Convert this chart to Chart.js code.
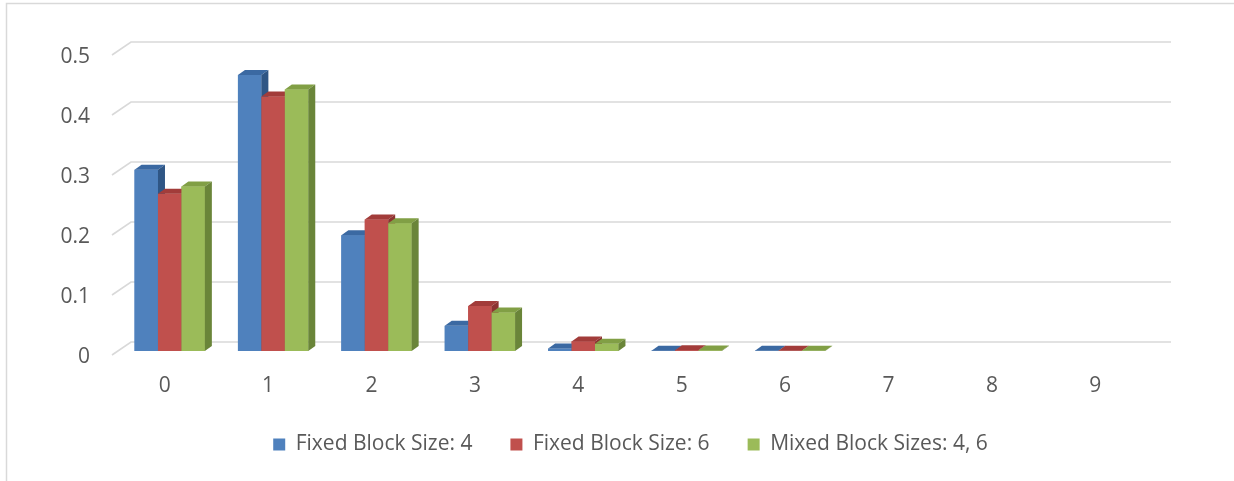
<!DOCTYPE html>
<html>
<head>
<meta charset="utf-8">
<title>Block size distribution</title>
<script src="https://cdn.jsdelivr.net/npm/chart.js@4.4.1/dist/chart.umd.min.js"></script>
<style>
  html, body { margin: 0; padding: 0; background: #ffffff; }
  #wrap { width: 1234px; height: 481px; }
</style>
</head>
<body>
<div id="wrap"><canvas id="chart" width="1234" height="481"></canvas></div>
<script>
// Categories and series values
const categories = ['0', '1', '2', '3', '4', '5', '6', '7', '8', '9'];
const fixed4 = [0.302, 0.460, 0.193, 0.042, 0.004, 0.0006, 0.0004, 0, 0, 0];
const fixed6 = [0.262, 0.424, 0.219, 0.075, 0.016, 0.0012, 0.0004, 0, 0, 0];
const mixed46 = [0.274, 0.436, 0.213, 0.064, 0.012, 0.0009, 0.0004, 0, 0, 0];
const seriesNames = ['Fixed Block Size: 4', 'Fixed Block Size: 6', 'Mixed Block Sizes: 4, 6'];
const yTicks = [0, 0.1, 0.2, 0.3, 0.4, 0.5];

// Face colours: front, top, side
const faceColors = [
  { front: '#4F81BD', top: '#3B69A2', side: '#2F5685' },
  { front: '#C0504D', top: '#A23C3A', side: '#8C3331' },
  { front: '#9BBB59', top: '#819F45', side: '#6A8539' }
];

const TEXT = '#595959';
const GRID = '#D9D9D9';
const FONT = "'Open Sans', 'DejaVu Sans', sans-serif";
const FONT_SIZE = 21;

// Depth offsets for the extruded columns
const BAR_DX = 7, BAR_DY = 5;

const frame = {
  id: 'frame',
  beforeDraw(chart) {
    const ctx = chart.ctx;
    ctx.save();
    ctx.fillStyle = '#ffffff';
    ctx.fillRect(0, 0, chart.width, chart.height);
    ctx.strokeStyle = GRID;
    ctx.lineWidth = 1.5;
    ctx.beginPath();
    ctx.moveTo(6.5, chart.height);
    ctx.lineTo(6.5, 3.5);
    ctx.lineTo(chart.width, 3.5);
    ctx.stroke();
    ctx.restore();
  }
};

// Gridlines on a receding back wall: diagonal from the front edge, then flat along the back
const wallGrid = {
  id: 'wallGrid',
  beforeDatasetsDraw(chart) {
    const { ctx, chartArea } = chart;
    const y = chart.scales.y;
    const fx = chartArea.left - 6, bx = chartArea.left + 13, rx = chartArea.right + 19;
    ctx.save();
    ctx.strokeStyle = GRID;
    ctx.lineWidth = 1.6;
    yTicks.forEach(v => {
      const py = y.getPixelForValue(v);
      ctx.beginPath();
      ctx.moveTo(fx, py + 4);
      ctx.lineTo(bx, py - 9);
      ctx.lineTo(rx, py - 9);
      ctx.stroke();
    });
    ctx.restore();
  }
};

// Columns with a top and right side face, drawn series by series
const columns3d = {
  id: 'columns3d',
  afterDatasetsDraw(chart) {
    const ctx = chart.ctx;
    ctx.save();
    chart.data.datasets.forEach((ds, di) => {
      const meta = chart.getDatasetMeta(di);
      const c = faceColors[di];
      meta.data.forEach((el, i) => {
        if (!ds.data[i]) return;
        const p = el.getProps(['x', 'y', 'base', 'width'], true);
        const l = p.x - p.width / 2, r = p.x + p.width / 2;
        el.draw(ctx, chart.chartArea);
        ctx.fillStyle = c.top;
        ctx.beginPath();
        ctx.moveTo(l, p.y);
        ctx.lineTo(r, p.y);
        ctx.lineTo(r + BAR_DX, p.y - BAR_DY);
        ctx.lineTo(l + BAR_DX, p.y - BAR_DY);
        ctx.closePath();
        ctx.fill();
        ctx.fillStyle = c.side;
        ctx.beginPath();
        ctx.moveTo(r, p.y);
        ctx.lineTo(r + BAR_DX, p.y - BAR_DY);
        ctx.lineTo(r + BAR_DX, p.base - BAR_DY);
        ctx.lineTo(r, p.base);
        ctx.closePath();
        ctx.fill();
      });
    });
    ctx.restore();
  }
};

const seriesValues = [fixed4, fixed6, mixed46];

new Chart(document.getElementById('chart'), {
  type: 'bar',
  data: {
    labels: categories,
    datasets: seriesValues.map((vals, i) => ({
      label: seriesNames[i],
      data: vals,
      backgroundColor: faceColors[i].front,
      borderWidth: 0,
      barPercentage: 1.0,
      categoryPercentage: 0.68
    }))
  },
  options: {
    responsive: false,
    animation: false,
    devicePixelRatio: 1,
    layout: { padding: { top: 51, right: 0, left: 27, bottom: 16 } },
    scales: {
      x: {
        grid: { display: false, drawTicks: false },
        border: { display: false },
        ticks: { color: TEXT, font: { family: FONT, size: FONT_SIZE }, padding: 22, labelOffset: -5, maxRotation: 0 },
        afterFit(scale) { scale.height = 45; }
      },
      y: {
        min: 0,
        max: 0.5,
        grid: { display: false, drawTicks: false },
        border: { display: false },
        ticks: {
          stepSize: 0.1,
          color: TEXT,
          font: { family: FONT, size: FONT_SIZE },
          padding: 28,
          labelOffset: 6,
          callback: v => (Math.round(v * 10) / 10).toString()
        },
        afterFit(scale) { scale.width = 91; }
      },
      // empty right-hand margin of the plot
      yRight: {
        position: 'right',
        grid: { display: false, drawTicks: false },
        border: { display: false },
        ticks: { display: false },
        afterFit(scale) { scale.width = 82; }
      }
    },
    plugins: {
      legend: {
        position: 'bottom',
        labels: {
          color: TEXT,
          font: { family: FONT, size: FONT_SIZE },
          boxWidth: 12,
          boxHeight: 12,
          padding: 38
        }
      },
      tooltip: { enabled: false }
    }
  },
  plugins: [frame, wallGrid, columns3d]
});
</script>
</body>
</html>
